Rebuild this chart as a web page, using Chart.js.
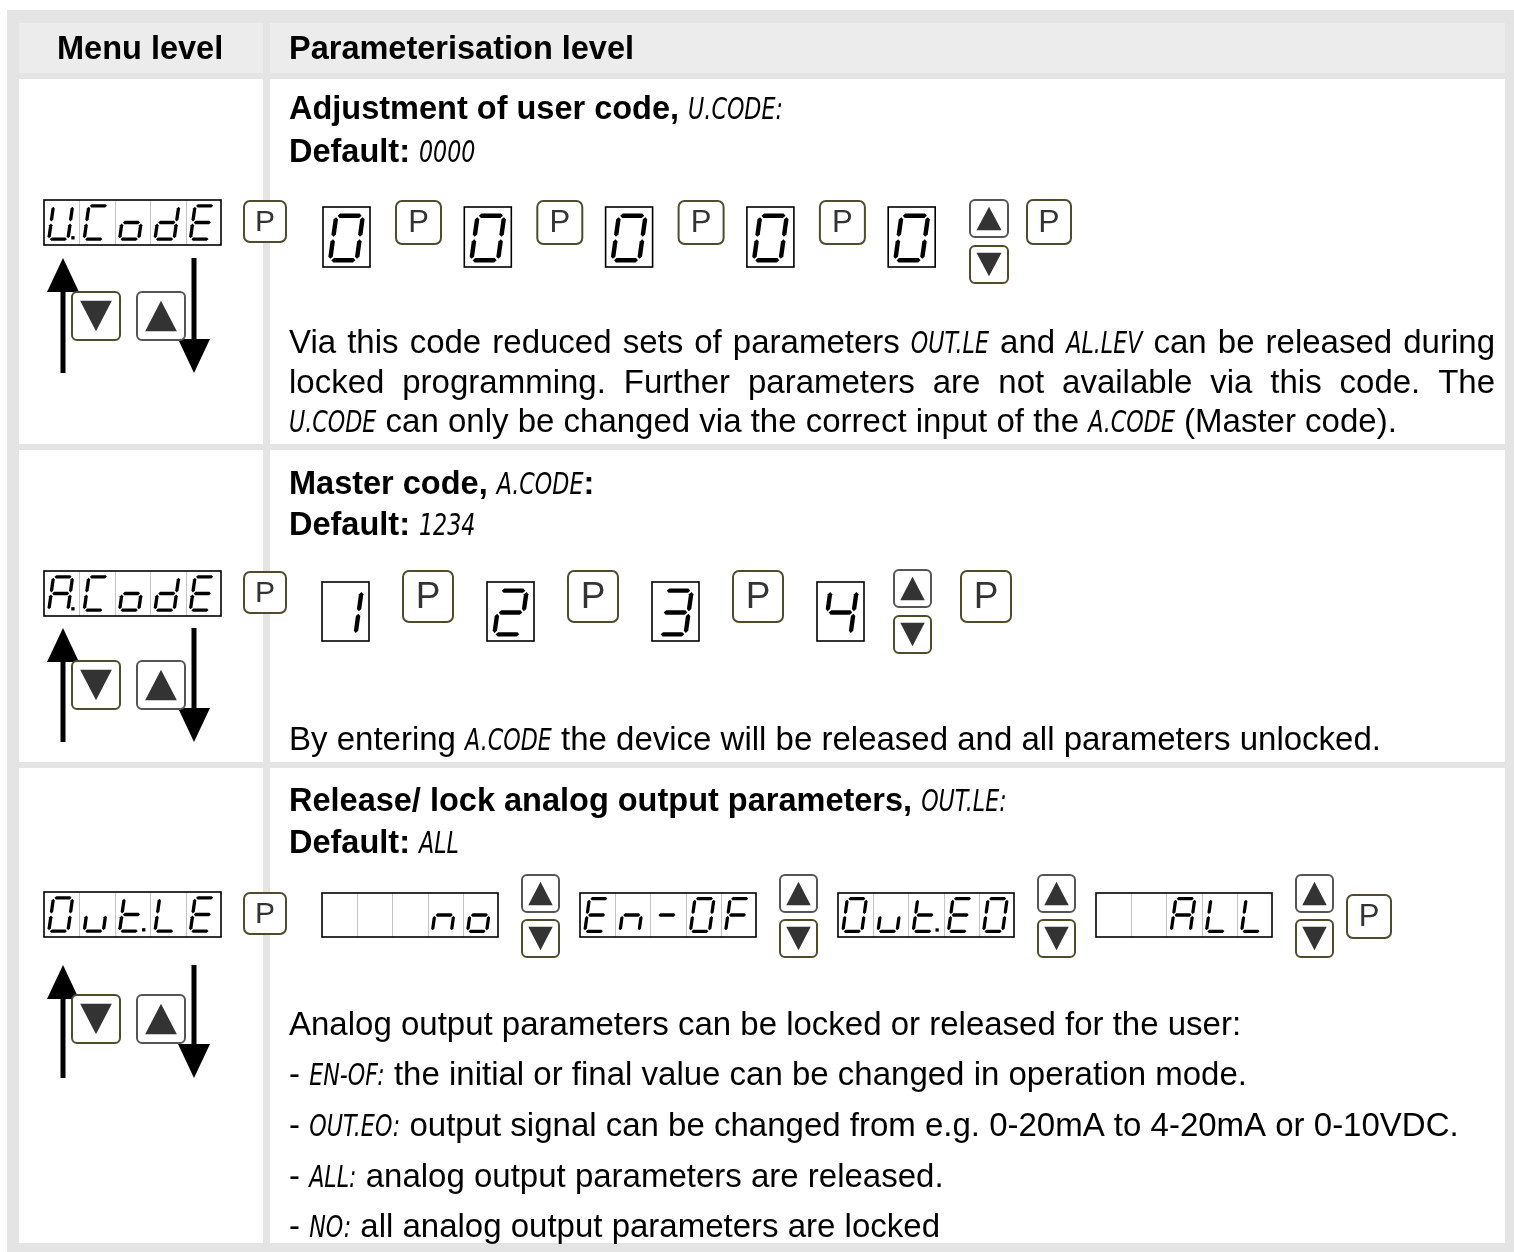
<!DOCTYPE html>
<html>
<head>
<meta charset="utf-8">
<title>User code, master code and analog output lock</title>
<script src="https://cdn.jsdelivr.net/npm/chart.js@4.4.1/dist/chart.umd.min.js"></script>
<style>
  html, body { margin: 0; padding: 0; background: #fff; }
  canvas { display: block; }
</style>
</head>
<body>
<canvas id="menuChart" width="1514" height="1252"></canvas>
<script>
const W = 1514, H = 1252;

// contents of the table
const headerLabels = ['Menu level', 'Parameterisation level'];
const menuDisplays = ['U.CodE', 'A.CodE', 'Out.LE'];
const userCodeDigits = ['0', '0', '0', '0', '0'];
const masterCodeDigits = ['1', '2', '3', '4'];
const outputLockOptions = ['   no', 'En-OF', 'Out.EO', '  ALL'];

// {...} marks text set in the display font
const userCodeText = [
    { bold: true, text: 'Adjustment of user code, {U.CODE:}' },
    { bold: true, text: 'Default: {0000}' },
    { text: 'Via this code reduced sets of parameters {OUT.LE} and {AL.LEV} can be released during', justify: true },
    { text: 'locked programming. Further parameters are not available via this code. The', justify: true },
    { text: '{U.CODE} can only be changed via the correct input of the {A.CODE} (Master code).' }
];
const masterCodeText = [
    { bold: true, text: 'Master code, {A.CODE}:' },
    { bold: true, text: 'Default: {1234}' },
    { text: 'By entering {A.CODE} the device will be released and all parameters unlocked.' }
];
const outputLockText = [
    { bold: true, text: 'Release/ lock analog output parameters, {OUT.LE:}' },
    { bold: true, text: 'Default: {ALL}' },
    { text: 'Analog output parameters can be locked or released for the user:' },
    { text: '- {EN-OF:} the initial or final value can be changed in operation mode.' },
    { text: '- {OUT.EO:} output signal can be changed from e.g. 0-20mA to 4-20mA or 0-10VDC.' },
    { text: '- {ALL:} analog output parameters are released.' },
    { text: '- {NO:} all analog output parameters are locked' }
];

const FONT_BODY = '33px "Liberation Sans", Arial, sans-serif';
const FONT_BOLD = 'bold 32.5px "Liberation Sans", Arial, sans-serif';
const FONT_CODE = 'italic 30px "DejaVu Sans", sans-serif';
const CODE_SX = 0.74;
const OLIVE = '#4f4b2c';

// seven segment maps
const SEGS = {
    '0': 'abcdef', 'O': 'abcdef', '1': 'bc', '2': 'abdeg', '3': 'abcdg', '4': 'bcfg',
    'U': 'bcdef', 'C': 'adef', 'o': 'cdeg', 'd': 'bcdeg', 'E': 'adefg', 'A': 'abcefg',
    'n': 'ceg', '-': 'g', 'F': 'aefg', 'u': 'cde', 't': 'defg', 'L': 'def', ' ': ''
};

function poly(ctx, pts) {
    ctx.beginPath();
    pts.forEach((p, i) => i ? ctx.lineTo(p[0], p[1]) : ctx.moveTo(p[0], p[1]));
    ctx.closePath();
    ctx.fill();
}

function drawGlyph(ctx, ch, cx, cy, gw, gh, t, dp) {
    const sl = 0.14;
    const P = (x, y) => [cx + x - sl * y, cy + y];
    const x0 = -gw / 2, x1 = gw / 2, y0 = -gh / 2, y1 = gh / 2, g = t * 0.3, ht = t / 2;
    const horiz = (y, xa, xb) => [P(xa, y), P(xa + ht, y - ht), P(xb - ht, y - ht), P(xb, y), P(xb - ht, y + ht), P(xa + ht, y + ht)];
    const vert = (x, ya, yb) => [P(x, ya), P(x + ht, ya + ht), P(x + ht, yb - ht), P(x, yb), P(x - ht, yb - ht), P(x - ht, ya + ht)];
    const shapes = {
        a: horiz(y0, x0 + g, x1 - g),
        b: vert(x1, y0 + g, -g),
        c: vert(x1, g, y1 - g),
        d: horiz(y1, x0 + g, x1 - g),
        e: vert(x0, g, y1 - g),
        f: vert(x0, y0 + g, -g),
        g: horiz(0, x0 + g, x1 - g)
    };
    ctx.fillStyle = '#000';
    (SEGS[ch] || '').split('').forEach(s => poly(ctx, shapes[s]));
    if (dp) {
        const q = P(x1 + t * 1.5, y1);
        ctx.fillRect(q[0] - t / 2, q[1] - t * 0.9, t, t);
    }
}

function parseCells(str) {
    const cells = [];
    for (const ch of str) {
        if (ch === '.' && cells.length) cells[cells.length - 1].dp = true;
        else cells.push({ ch: ch, dp: false });
    }
    return cells;
}

function drawDisplay(ctx, str, x, y, w, h) {
    const cells = parseCells(str);
    const cw = w / cells.length;
    ctx.fillStyle = '#fff';
    ctx.fillRect(x, y, w, h);
    ctx.strokeStyle = '#c4c4c4';
    ctx.lineWidth = 1;
    for (let i = 1; i < cells.length; i++) {
        ctx.beginPath();
        ctx.moveTo(Math.round(x + i * cw) + 0.5, y);
        ctx.lineTo(Math.round(x + i * cw) + 0.5, y + h);
        ctx.stroke();
    }
    ctx.strokeStyle = '#000';
    ctx.lineWidth = 1.6;
    ctx.strokeRect(x, y, w, h);
    const single = cells.length === 1;
    const gh = h * (single ? 0.74 : 0.74);
    const gw = single ? gh * 0.6 : cw * 0.54;
    const t = gh * (single ? 0.1 : 0.1);
    cells.forEach((c, i) => drawGlyph(ctx, c.ch, x + (i + 0.5) * cw - (single ? 0 : 1), y + h / 2 + (single ? 1 : 0), gw, gh, t, c.dp));
}

function roundBox(ctx, x, y, w, h, r, stroke) {
    ctx.beginPath();
    ctx.roundRect(x, y, w, h, r);
    ctx.fillStyle = '#fff';
    ctx.fill();
    ctx.strokeStyle = stroke;
    ctx.lineWidth = 2;
    ctx.stroke();
}

function drawPButton(ctx, x, y, w, h) {
    roundBox(ctx, x, y, w, h, 6, OLIVE);
    ctx.fillStyle = '#333';
    ctx.font = Math.round(h * 0.72) + 'px "Liberation Sans", Arial, sans-serif';
    ctx.textAlign = 'center';
    ctx.textBaseline = 'middle';
    ctx.fillText('P', x + w / 2, y + h / 2 + 1);
    ctx.textAlign = 'left';
    ctx.textBaseline = 'alphabetic';
}

function drawKey(ctx, x, y, w, h, up) {
    roundBox(ctx, x, y, w, h, 5, up ? '#555' : OLIVE);
    ctx.fillStyle = '#333';
    const mx = x + w / 2, l = x + w * 0.17, r = x + w * 0.83;
    if (up) poly(ctx, [[mx, y + h * 0.18], [r, y + h * 0.82], [l, y + h * 0.82]]);
    else poly(ctx, [[l, y + h * 0.18], [r, y + h * 0.18], [mx, y + h * 0.82]]);
}

function drawUpDown(ctx, x, yUp, yDown, w, h) {
    drawKey(ctx, x, yUp, w, h, true);
    drawKey(ctx, x, yDown, w, h, false);
}

function drawLongArrow(ctx, x, yTop, yBottom, up) {
    ctx.fillStyle = '#000';
    const hw = 16, hh = 34, sw = 5;
    if (up) {
        ctx.fillRect(x - sw / 2, yTop + hh - 2, sw, yBottom - yTop - hh + 2);
        poly(ctx, [[x, yTop], [x + hw, yTop + hh], [x - hw, yTop + hh]]);
    } else {
        ctx.fillRect(x - sw / 2, yTop, sw, yBottom - yTop - hh + 2);
        poly(ctx, [[x - hw, yBottom - hh], [x + hw, yBottom - hh], [x, yBottom]]);
    }
}

function toWords(str) {
    const runs = str.split(/(\{[^}]*\})/).filter(s => s.length).map(s =>
        s[0] === '{' ? { s: s.slice(1, -1), code: true } : { s: s, code: false });
    const words = [[]];
    runs.forEach(run => {
        if (run.code) { words[words.length - 1].push(run); return; }
        run.s.split(' ').forEach((p, i) => {
            if (i > 0) words.push([]);
            if (p) words[words.length - 1].push({ s: p, code: false });
        });
    });
    return words.filter(w => w.length);
}

function runWidth(ctx, run, font) {
    ctx.font = run.code ? FONT_CODE : font;
    return ctx.measureText(run.s).width * (run.code ? CODE_SX : 1);
}

function drawLine(ctx, line, x, y, right) {
    const font = line.bold ? FONT_BOLD : FONT_BODY;
    const words = toWords(line.text);
    const widths = words.map(w => w.reduce((s, r) => s + runWidth(ctx, r, font), 0));
    ctx.font = font;
    let gap = ctx.measureText(' ').width;
    if (line.justify && words.length > 1) {
        const total = widths.reduce((a, b) => a + b, 0);
        gap = (right - x - total) / (words.length - 1);
    }
    ctx.fillStyle = '#000';
    let cx = x;
    words.forEach(w => {
        w.forEach(r => {
            const rw = runWidth(ctx, r, font);
            if (r.code) {
                ctx.save();
                ctx.translate(cx, y);
                ctx.scale(CODE_SX, 1);
                ctx.fillText(r.s, 0, 0);
                ctx.restore();
            } else {
                ctx.fillText(r.s, cx, y);
            }
            cx += rw;
        });
        cx += gap;
    });
}

const tablePlugin = {
    id: 'menuTable',
    afterDraw(chart) {
        const ctx = chart.ctx;
        const X = v => chart.scales.x.getPixelForValue(v);
        const Y = v => chart.scales.y.getPixelForValue(v);
        ctx.save();

        // frame and cells
        ctx.fillStyle = '#e4e4e4';
        ctx.fillRect(X(7), Y(10), X(W) - X(7), Y(H) - Y(10));
        ctx.fillStyle = '#ececec';
        ctx.fillRect(X(19), Y(23), X(263) - X(19), Y(73) - Y(23));
        ctx.fillRect(X(270), Y(23), X(1505) - X(270), Y(73) - Y(23));
        ctx.fillStyle = '#fff';
        [[79, 444], [450, 762], [768, 1243]].forEach(r => {
            ctx.fillRect(X(19), Y(r[0]), X(263) - X(19), Y(r[1]) - Y(r[0]));
            ctx.fillRect(X(270), Y(r[0]), X(1505) - X(270), Y(r[1]) - Y(r[0]));
        });

        // header
        ctx.fillStyle = '#000';
        ctx.font = FONT_BOLD;
        ctx.fillText(headerLabels[0], X(57), Y(59));
        ctx.fillText(headerLabels[1], X(289), Y(59));

        // menu column: display, P key, arrows and keys
        const menuY = [200, 571, 892];
        const arrowY = [[258, 373], [628, 742], [965, 1078]];
        const keyY = [292, 661, 995];
        menuDisplays.forEach((d, i) => {
            drawDisplay(ctx, d, X(44), Y(menuY[i]), 177, 45);
            drawPButton(ctx, X(244), Y(menuY[i] + 1), 42, 41);
            drawLongArrow(ctx, X(63), Y(arrowY[i][0]), Y(arrowY[i][1]), true);
            drawLongArrow(ctx, X(194), Y(arrowY[i][0]), Y(arrowY[i][1]), false);
            drawKey(ctx, X(72), Y(keyY[i]), 48, 48, false);
            drawKey(ctx, X(137), Y(keyY[i]), 48, 48, true);
        });

        // row 1: user code entry
        userCodeDigits.forEach((d, i) => {
            const dx = 323 + i * 141.3;
            drawDisplay(ctx, d, X(dx), Y(207), 47, 60);
            if (i < userCodeDigits.length - 1) drawPButton(ctx, X(dx + 73), Y(201), 45, 43);
        });
        drawUpDown(ctx, X(970), Y(200), Y(246), 38, 37);
        drawPButton(ctx, X(1027), Y(200), 44, 44);

        // row 2: master code entry
        masterCodeDigits.forEach((d, i) => {
            const dx = 322 + i * 165;
            drawDisplay(ctx, d, X(dx), Y(582), 47, 59);
            if (i < masterCodeDigits.length - 1) drawPButton(ctx, X(dx + 81), Y(571), 50, 51);
        });
        drawUpDown(ctx, X(894), Y(570), Y(616), 37, 37);
        drawPButton(ctx, X(961), Y(571), 50, 51);

        // row 3: output lock options
        outputLockOptions.forEach((d, i) => {
            const dx = 322 + i * 258;
            drawDisplay(ctx, d, X(dx), Y(893), 176, 44);
            drawUpDown(ctx, X(dx + 200), Y(875), Y(920), 37, 37);
        });
        drawPButton(ctx, X(1347), Y(895), 44, 43);

        // text blocks
        const right = X(1495);
        [119, 162, 353, 393, 432].forEach((y, i) => drawLine(ctx, userCodeText[i], X(289), Y(y), right));
        [494, 535, 750].forEach((y, i) => drawLine(ctx, masterCodeText[i], X(289), Y(y), right));
        [811, 853, 1035, 1085, 1136, 1187, 1237].forEach((y, i) => drawLine(ctx, outputLockText[i], X(289), Y(y), right));

        ctx.restore();
    }
};

new Chart(document.getElementById('menuChart').getContext('2d'), {
    type: 'scatter',
    data: { datasets: [] },
    options: {
        responsive: false,
        animation: false,
        events: [],
        layout: { padding: 0 },
        plugins: { legend: { display: false }, tooltip: { enabled: false } },
        scales: {
            x: { type: 'linear', min: 0, max: W, display: false },
            y: { type: 'linear', min: 0, max: H, reverse: true, display: false }
        }
    },
    plugins: [tablePlugin]
});
</script>
</body>
</html>
